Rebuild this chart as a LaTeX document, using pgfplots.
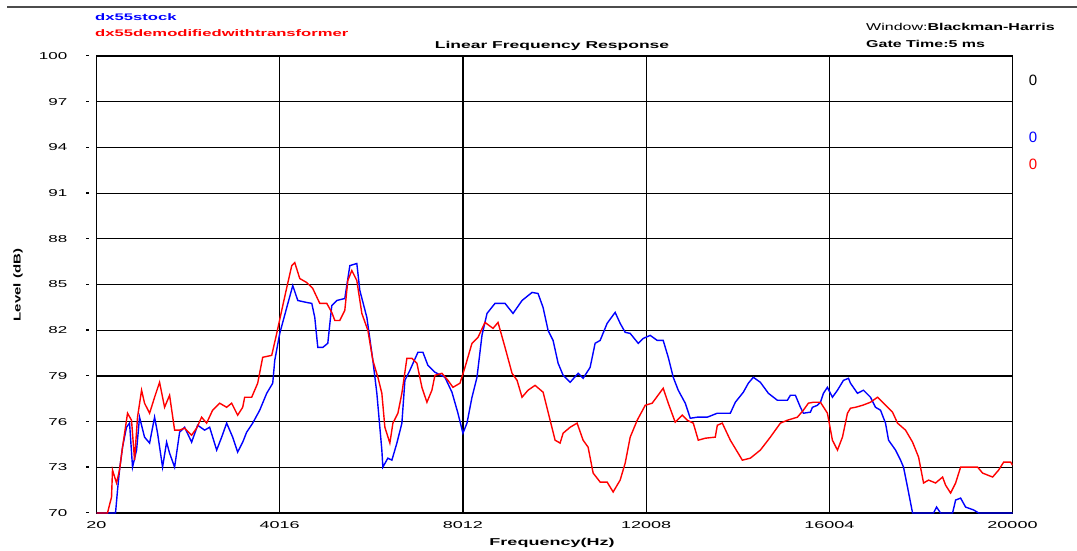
\documentclass[border=0pt]{standalone}
\usepackage{pgfplots}
\pgfplotsset{compat=1.18}
\usepackage{graphicx}
\usepackage{fontspec}
\setmainfont{Liberation Sans}
\newcommand{\sx}[2][1.75]{\scalebox{#1}[1]{#2}}
\begin{document}
\begin{tikzpicture}
\useasboundingbox (0pt,0pt) rectangle (1077pt,550pt);
\draw[gray!60!black, line width=2pt] (7pt,543pt) -- (1077pt,543pt);
\begin{axis}[
  at={(96.5pt,37pt)}, anchor=south west,
  scale only axis, width=916pt, height=457pt,
  xmin=20, xmax=20000, ymin=70, ymax=100,
  scaled x ticks=false, scaled y ticks=false,
  xtick={20,4016,8012,12008,16004,20000},
  xticklabels={\sx[1.8]{\fontsize{10}{12}\selectfont 20},\sx[1.8]{\fontsize{10}{12}\selectfont 4016},\sx[1.8]{\fontsize{10}{12}\selectfont 8012},\sx[1.8]{\fontsize{10}{12}\selectfont 12008},\sx[1.8]{\fontsize{10}{12}\selectfont 16004},\sx[1.8]{\fontsize{10}{12}\selectfont 20000}},
  ytick={70,73,76,79,82,85,88,91,94,97,100},
  yticklabel={\sx[1.7]{\fontsize{10}{12}\selectfont\pgfmathprintnumber[assume math mode=true]{\tick}}\hspace{19pt}\rule[3pt]{3pt}{1.3pt}},
  yticklabel style={anchor=east, inner sep=0pt, xshift=-7pt},
  xticklabel style={anchor=north, inner sep=0pt, yshift=-8pt},
  xtick style={draw=none}, ytick style={draw=none},
  grid=major,
  major grid style={black, line width=1.2pt},
  axis line style={black, line width=1.7pt},
]
\addplot[blue, line width=1.4pt] table {
x y
20 70.0
435 70.0
479 71.51
522 72.82
588 74.32
675 75.63
741 75.90
806 73.01
894 74.13
959 76.29
1068 74.98
1178 74.59
1287 76.29
1352 75.24
1461 73.01
1549 74.65
1614 73.93
1724 73.01
1833 75.31
1942 75.63
2095 74.65
2226 75.76
2379 75.44
2488 75.63
2641 74.13
2750 74.98
2859 75.90
2990 74.98
3099 74.00
3209 74.65
3296 75.31
3427 75.90
3580 76.75
3733 77.86
3864 78.52
3908 80.02
4017 81.79
4170 83.49
4301 84.93
4410 83.95
4606 83.82
4716 83.76
4781 82.84
4847 80.87
4956 80.87
5065 81.14
5152 83.62
5262 83.95
5436 84.08
5546 86.24
5698 86.38
5764 84.61
5917 82.84
6048 80.02
6135 77.86
6244 74.13
6266 73.01
6375 73.60
6463 73.47
6572 74.59
6681 75.90
6747 78.71
6856 79.37
7031 80.55
7140 80.55
7249 79.69
7402 79.24
7620 78.91
7773 77.93
7904 76.55
8013 75.24
8101 75.90
8210 77.60
8319 78.91
8428 81.66
8538 83.10
8712 83.76
8931 83.76
9105 83.10
9302 83.95
9520 84.48
9651 84.41
9761 83.49
9870 81.99
9979 81.33
10089 79.83
10198 79.04
10351 78.58
10526 79.17
10634 78.84
10787 79.56
10896 81.14
11006 81.33
11158 82.45
11333 83.17
11442 82.45
11552 81.86
11661 81.79
11836 81.14
11945 81.46
12098 81.66
12250 81.33
12381 81.33
12491 80.22
12600 78.91
12709 78.06
12862 77.21
12971 76.22
13124 76.29
13342 76.29
13561 76.55
13845 76.55
13954 77.27
14129 77.93
14238 78.52
14347 78.91
14500 78.58
14675 77.86
14871 77.40
15090 77.40
15155 77.73
15264 77.73
15374 76.94
15439 76.55
15592 76.62
15636 76.94
15745 77.07
15811 77.27
15876 77.86
15963 78.25
16072 77.60
16182 78.06
16313 78.71
16422 78.84
16466 78.52
16618 77.86
16749 78.06
16902 77.60
17012 76.94
17121 76.75
17230 75.90
17296 74.78
17449 74.13
17558 73.47
17623 73.01
17710 71.70
17820 70.0
18278 70.0
18344 70.39
18431 70.0
18693 70.0
18759 70.85
18868 70.98
18977 70.39
19152 70.20
19261 70.0
20000 70.0
};
\addplot[red, line width=1.4pt] table {
x y
20 70.0
260 70.0
348 71.05
369 72.82
457 71.97
522 72.82
588 74.32
697 76.55
784 76.09
850 73.47
915 76.29
1003 78.06
1068 77.21
1178 76.55
1287 77.60
1396 78.58
1505 76.94
1614 77.73
1724 75.44
1833 75.44
1942 75.57
2095 75.11
2204 75.57
2313 76.29
2422 75.90
2553 76.75
2706 77.21
2859 76.94
2968 77.21
3099 76.42
3209 76.94
3252 77.60
3405 77.60
3536 78.52
3645 80.22
3842 80.35
3951 81.79
4060 83.30
4170 84.80
4279 86.24
4344 86.44
4454 85.39
4606 85.13
4737 84.74
4890 83.76
5043 83.76
5152 83.17
5218 82.64
5327 82.64
5436 83.30
5502 85.26
5589 85.92
5698 85.26
5808 83.10
5939 81.99
6048 80.02
6157 78.91
6244 77.86
6310 75.63
6419 74.59
6485 75.90
6594 76.55
6681 77.86
6790 80.15
6900 80.15
7009 79.83
7118 78.25
7227 77.27
7336 78.06
7402 79.04
7555 79.17
7686 78.71
7795 78.25
7948 78.52
8057 79.56
8210 81.14
8341 81.53
8494 82.51
8669 82.12
8778 82.51
8931 80.87
9084 79.17
9193 78.71
9302 77.60
9433 78.06
9586 78.38
9761 77.93
9914 76.09
10023 74.78
10132 74.59
10198 75.24
10351 75.63
10503 75.90
10634 74.78
10743 74.32
10853 72.62
11006 72.03
11158 72.03
11289 71.38
11442 72.16
11552 73.28
11661 74.98
11814 76.09
11989 77.07
12141 77.21
12381 78.19
12491 77.21
12643 75.96
12796 76.42
12906 76.09
13037 75.90
13146 74.78
13299 74.91
13517 74.98
13561 75.76
13670 75.90
13845 74.78
14107 73.47
14282 73.60
14500 74.13
14718 74.98
14937 75.90
15090 76.09
15308 76.29
15439 76.75
15548 77.21
15657 77.27
15811 77.27
15963 76.55
16072 74.78
16182 74.13
16291 74.98
16400 76.55
16466 76.88
16575 76.94
16728 77.07
16902 77.27
17055 77.60
17186 77.21
17383 76.62
17492 75.90
17667 75.44
17820 74.65
17951 73.67
18060 71.97
18169 72.16
18322 71.97
18475 72.36
18540 71.83
18649 71.31
18759 71.97
18868 73.01
19043 73.01
19239 73.01
19348 72.62
19567 72.36
19698 72.82
19807 73.34
19960 73.34
20000 73.14
};
\end{axis}
\node[anchor=west, inner sep=0pt, text=blue] at (95pt,533pt) {\sx{\fontsize{9.5}{11}\selectfont\bfseries dx55stock}};
\node[anchor=west, inner sep=0pt, text=red] at (95pt,517pt) {\sx{\fontsize{9.5}{11}\selectfont\bfseries dx55demodifiedwithtransformer}};
\node[inner sep=0pt] at (552pt,504pt) {\sx[1.75]{\fontsize{10}{12}\selectfont\bfseries Linear Frequency Response}};
\node[anchor=west, inner sep=0pt] at (866pt,523pt) {\sx[1.6]{\fontsize{10}{12}\selectfont Window:\textbf{Blackman-Harris}}};
\node[anchor=west, inner sep=0pt] at (866pt,506pt) {\sx[1.6]{\fontsize{10}{12}\selectfont\bfseries Gate Time:5 ms}};
\node[inner sep=0pt] at (552pt,7pt) {\sx[1.8]{\fontsize{10}{12}\selectfont\bfseries Frequency(Hz)}};
\node[inner sep=0pt, rotate=90] at (18pt,265pt) {\sx[1.5]{\fontsize{10}{12}\selectfont\bfseries Level (dB)}};
\node[inner sep=0pt] at (1033pt,470pt) {\fontsize{15}{17}\selectfont 0};
\node[inner sep=0pt, text=blue] at (1033pt,413pt) {\fontsize{15}{17}\selectfont 0};
\node[inner sep=0pt, text=red] at (1033pt,386pt) {\fontsize{15}{17}\selectfont 0};
\end{tikzpicture}
\end{document}
